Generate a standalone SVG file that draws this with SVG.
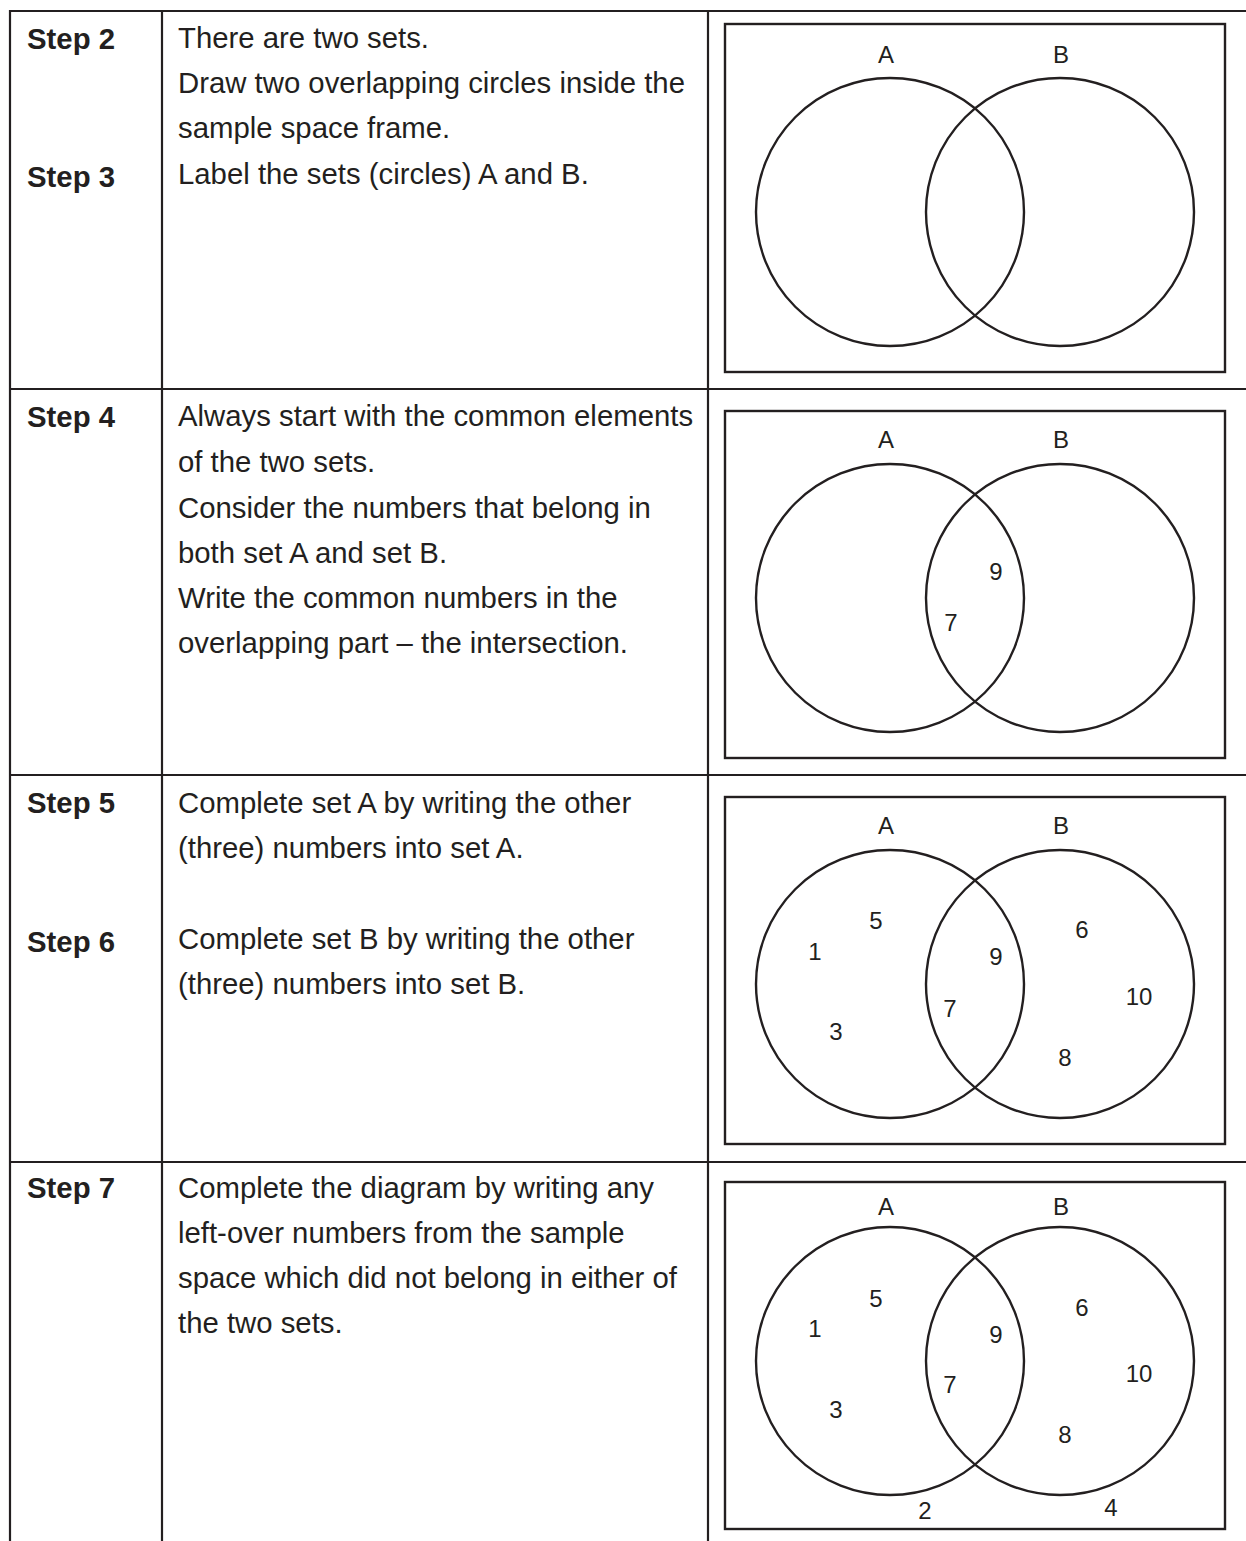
<svg xmlns="http://www.w3.org/2000/svg" width="1246" height="1541" viewBox="0 0 1246 1541">
<style>
.grid{stroke:#231f20;stroke-width:2.2;fill:none}
.frame{stroke:#231f20;stroke-width:2.4;fill:none}
.circ{stroke:#231f20;stroke-width:2.4;fill:none}
.step{font-family:"Liberation Sans",Arial,sans-serif;font-weight:bold;font-size:29.33px;fill:#231f20}
.body{font-family:"Liberation Sans",Arial,sans-serif;font-size:29.33px;fill:#231f20}
.lab{font-family:"Liberation Sans",Arial,sans-serif;font-size:24px;fill:#231f20;text-anchor:middle}
</style>
<rect width="1246" height="1541" fill="#fff"/>
<g id="connectors">
  <line class="grid" x1="10" y1="11" x2="1246" y2="11"/>
  <line class="grid" x1="10" y1="389" x2="1246" y2="389"/>
  <line class="grid" x1="10" y1="775" x2="1246" y2="775"/>
  <line class="grid" x1="10" y1="1162" x2="1246" y2="1162"/>
  <line class="grid" x1="10" y1="10" x2="10" y2="1541"/>
  <line class="grid" x1="162" y1="10" x2="162" y2="1541"/>
  <line class="grid" x1="708" y1="10" x2="708" y2="1541"/>
</g>
<g id="row1">
  <text class="step" x="27" y="49">Step 2</text>
  <text class="step" x="27" y="187">Step 3</text>
  <text class="body" x="178" y="48">There are two sets.</text>
  <text class="body" x="178" y="93">Draw two overlapping circles inside the</text>
  <text class="body" x="178" y="138">sample space frame.</text>
  <text class="body" x="178" y="184">Label the sets (circles) A and B.</text>
  <g id="venn1">
    <rect class="frame" x="725" y="24" width="500" height="348"/>
    <circle class="circ" cx="890" cy="212" r="134"/>
    <circle class="circ" cx="1060" cy="212" r="134"/>
    <text class="lab" x="886" y="63">A</text>
    <text class="lab" x="1061" y="63">B</text>
  </g>
</g>
<g id="row2">
  <text class="step" x="27" y="427">Step 4</text>
  <text class="body" x="178" y="426">Always start with the common elements</text>
  <text class="body" x="178" y="472">of the two sets.</text>
  <text class="body" x="178" y="518">Consider the numbers that belong in</text>
  <text class="body" x="178" y="563">both set A and set B.</text>
  <text class="body" x="178" y="608">Write the common numbers in the</text>
  <text class="body" x="178" y="653">overlapping part – the intersection.</text>
  <g id="venn2">
    <rect class="frame" x="725" y="411" width="500" height="347"/>
    <circle class="circ" cx="890" cy="598" r="134"/>
    <circle class="circ" cx="1060" cy="598" r="134"/>
    <text class="lab" x="886" y="448">A</text>
    <text class="lab" x="1061" y="448">B</text>
    <text class="lab" x="996" y="580">9</text>
    <text class="lab" x="951" y="631">7</text>
  </g>
</g>
<g id="row3">
  <text class="step" x="27" y="813">Step 5</text>
  <text class="step" x="27" y="952">Step 6</text>
  <text class="body" x="178" y="813">Complete set A by writing the other</text>
  <text class="body" x="178" y="858">(three) numbers into set A.</text>
  <text class="body" x="178" y="949">Complete set B by writing the other</text>
  <text class="body" x="178" y="994">(three) numbers into set B.</text>
  <g id="venn3">
    <rect class="frame" x="725" y="797" width="500" height="347"/>
    <circle class="circ" cx="890" cy="984" r="134"/>
    <circle class="circ" cx="1060" cy="984" r="134"/>
    <text class="lab" x="886" y="834">A</text>
    <text class="lab" x="1061" y="834">B</text>
    <text class="lab" x="876" y="929">5</text>
    <text class="lab" x="815" y="960">1</text>
    <text class="lab" x="996" y="965">9</text>
    <text class="lab" x="1082" y="938">6</text>
    <text class="lab" x="1139" y="1005">10</text>
    <text class="lab" x="950" y="1017">7</text>
    <text class="lab" x="836" y="1040">3</text>
    <text class="lab" x="1065" y="1066">8</text>
  </g>
</g>
<g id="row4">
  <text class="step" x="27" y="1198">Step 7</text>
  <text class="body" x="178" y="1198">Complete the diagram by writing any</text>
  <text class="body" x="178" y="1243">left-over numbers from the sample</text>
  <text class="body" x="178" y="1288">space which did not belong in either of</text>
  <text class="body" x="178" y="1333">the two sets.</text>
  <g id="venn4">
    <rect class="frame" x="725" y="1182" width="500" height="347"/>
    <circle class="circ" cx="890" cy="1361" r="134"/>
    <circle class="circ" cx="1060" cy="1361" r="134"/>
    <text class="lab" x="886" y="1215">A</text>
    <text class="lab" x="1061" y="1215">B</text>
    <text class="lab" x="876" y="1307">5</text>
    <text class="lab" x="815" y="1337">1</text>
    <text class="lab" x="996" y="1343">9</text>
    <text class="lab" x="1082" y="1316">6</text>
    <text class="lab" x="1139" y="1382">10</text>
    <text class="lab" x="950" y="1393">7</text>
    <text class="lab" x="836" y="1418">3</text>
    <text class="lab" x="1065" y="1443">8</text>
    <text class="lab" x="925" y="1519">2</text>
    <text class="lab" x="1111" y="1516">4</text>
  </g>
</g>
</svg>
